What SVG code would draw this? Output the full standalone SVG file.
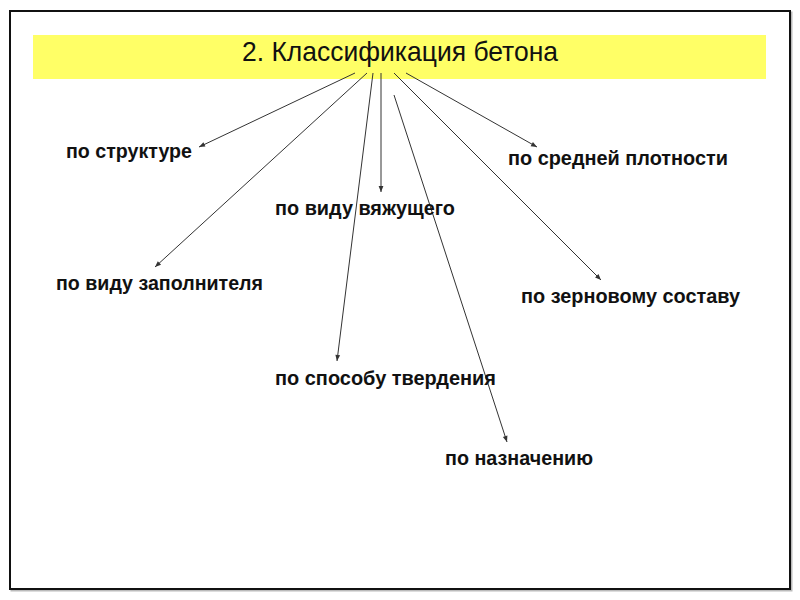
<svg xmlns="http://www.w3.org/2000/svg" width="800" height="600" viewBox="0 0 800 600">
<style>
.lbl{font-family:"Liberation Sans",Arial,sans-serif;font-weight:bold;font-size:20px;fill:#111}
.ttl{font-family:"Liberation Sans",Arial,sans-serif;font-size:28px;fill:#111}
.con{stroke:#333;stroke-width:1;fill:none;marker-end:url(#ah)}
</style>
<defs>
<marker id="ah" viewBox="0 0 10 10" refX="10" refY="5" markerWidth="8" markerHeight="6" markerUnits="userSpaceOnUse" orient="auto">
<path d="M0,1 L10,5 L0,9 z" fill="#333"/>
</marker>
</defs>
<rect x="0" y="0" width="800" height="600" fill="#fff"/>
<rect x="11.5" y="12.5" width="780" height="578" fill="none" stroke="#bbb" stroke-width="2"/>
<rect x="10" y="11" width="780" height="578" fill="#fff" stroke="#111" stroke-width="2"/>
<g id="title">
<rect x="33" y="35" width="733" height="44" fill="#ffff66"/>
<text class="ttl" x="242" y="61" textLength="316" lengthAdjust="spacingAndGlyphs">2. Классификация бетона</text>
</g>
<g id="connectors">
<line class="con" x1="355" y1="73" x2="199" y2="147"/>
<line class="con" x1="367" y1="73" x2="155" y2="267"/>
<line class="con" x1="373" y1="73" x2="337" y2="361"/>
<line class="con" x1="381" y1="73" x2="381" y2="192"/>
<line class="con" x1="394" y1="95" x2="507" y2="442"/>
<line class="con" x1="394" y1="73" x2="601" y2="280"/>
<line class="con" x1="406" y1="73" x2="537" y2="147"/>
</g>
<g id="n-structure"><text class="lbl" x="66" y="158" textLength="126" lengthAdjust="spacingAndGlyphs">по структуре</text></g>
<g id="n-filler"><text class="lbl" x="56" y="290" textLength="207" lengthAdjust="spacingAndGlyphs">по виду заполнителя</text></g>
<g id="n-binder"><text class="lbl" x="275" y="215" textLength="180" lengthAdjust="spacingAndGlyphs">по виду вяжущего</text></g>
<g id="n-hardening"><text class="lbl" x="275" y="385" textLength="221" lengthAdjust="spacingAndGlyphs">по способу твердения</text></g>
<g id="n-purpose"><text class="lbl" x="445" y="465" textLength="148" lengthAdjust="spacingAndGlyphs">по назначению</text></g>
<g id="n-density"><text class="lbl" x="508" y="165" textLength="220" lengthAdjust="spacingAndGlyphs">по средней плотности</text></g>
<g id="n-grain"><text class="lbl" x="521" y="303" textLength="219" lengthAdjust="spacingAndGlyphs">по зерновому составу</text></g>
</svg>
